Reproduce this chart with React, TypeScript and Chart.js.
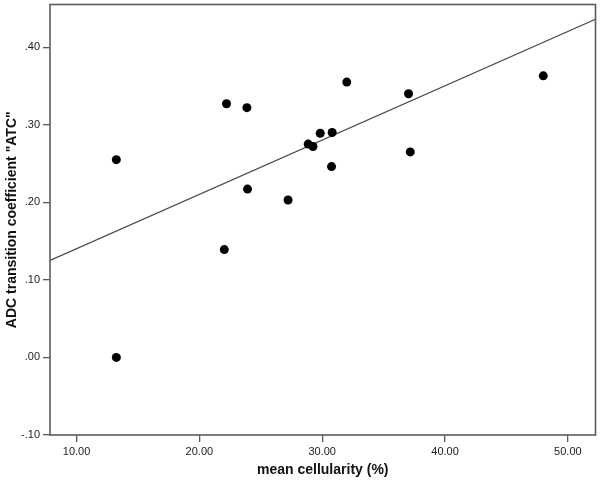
import React, { useEffect, useRef } from 'react';
import { Chart, registerables } from 'chart.js';
Chart.register(...registerables);

const cellularity = [13.24, 13.24, 22.21, 23.87, 22.03, 23.92, 27.22, 28.86, 29.25, 29.84, 30.81, 30.76, 32.0, 37.03, 37.17, 48.0];
const atc = [0.255, 0.0, 0.327, 0.322, 0.139, 0.217, 0.203, 0.275, 0.272, 0.289, 0.29, 0.246, 0.355, 0.34, 0.265, 0.363];
const fitX = [7.84, 52.25];
const fitY = [0.125, 0.436];
const xTicks = [10, 20, 30, 40, 50];
const yTicks = [-0.1, 0, 0.1, 0.2, 0.3, 0.4];
const xTitle = 'mean cellularity (%)';
const yTitle = 'ADC transition coefficient "ATC"';

const FONT = 'Arial, "Liberation Sans", Helvetica, sans-serif';
const AXIS_COLOR = '#5c5c5c';

const framePlugin = {
  id: 'frame',
  afterDraw(chart: any) {
    const { ctx, chartArea } = chart;
    ctx.save();
    ctx.strokeStyle = AXIS_COLOR;
    ctx.lineWidth = 1.6;
    ctx.strokeRect(chartArea.left, chartArea.top, chartArea.right - chartArea.left, chartArea.bottom - chartArea.top);
    ctx.restore();
  },
};

export default function App() {
  const ref = useRef<HTMLCanvasElement | null>(null);
  useEffect(() => {
    if (!ref.current) return;
    const chart = new Chart(ref.current, {
      type: 'scatter',
      data: {
        datasets: [
          {
            label: 'data',
            data: cellularity.map((x, i) => ({ x, y: atc[i] })),
            backgroundColor: '#000',
            borderColor: '#000',
            pointRadius: 4.5,
            pointBorderWidth: 0,
            showLine: false,
          },
          {
            label: 'fit',
            data: fitX.map((x, i) => ({ x, y: fitY[i] })),
            showLine: true,
            borderColor: '#444',
            borderWidth: 1.2,
            pointRadius: 0,
            fill: false,
          },
        ],
      },
      options: {
        animation: false,
        responsive: true,
        maintainAspectRatio: false,
        layout: { padding: { top: 4, right: 2, left: 0, bottom: 0 } },
        plugins: { legend: { display: false }, tooltip: { enabled: false } },
        scales: {
          x: {
            type: 'linear',
            min: 7.84,
            max: 52.25,
            afterBuildTicks: (s: any) => { s.ticks = xTicks.map((v) => ({ value: v })); },
            afterFit: (s: any) => { s.height = 47; s.paddingLeft = 0; s.paddingRight = 0; },
            ticks: {
              callback: (v: any) => Number(v).toFixed(2),
              font: { family: FONT, size: 11 },
              color: '#222',
              padding: 3,
              maxRotation: 0,
              autoSkip: false,
            },
            grid: { display: true, drawOnChartArea: false, drawTicks: true, tickLength: 7, color: AXIS_COLOR, lineWidth: 1.3 },
            border: { display: false },
            title: {
              display: true,
              text: xTitle,
              font: { family: FONT, size: 14, weight: 'bold' },
              color: '#111',
              padding: { top: 0, bottom: 3 },
            },
          },
          y: {
            type: 'linear',
            min: -0.1,
            max: 0.455,
            afterBuildTicks: (s: any) => { s.ticks = yTicks.map((v) => ({ value: v })); },
            afterFit: (s: any) => { s.width = 50; s.paddingTop = 0; s.paddingBottom = 0; },
            ticks: {
              callback: (v: any) => Number(v).toFixed(2).replace(/^(-?)0\./, '$1.'),
              font: { family: FONT, size: 11 },
              color: '#222',
              padding: 3,
              autoSkip: false,
            },
            grid: { display: true, drawOnChartArea: false, drawTicks: true, tickLength: 7, color: AXIS_COLOR, lineWidth: 1.3 },
            border: { display: false },
            title: {
              display: true,
              text: yTitle,
              font: { family: FONT, size: 14, weight: 'bold' },
              color: '#111',
              padding: { top: 4, bottom: 0 },
            },
          },
        },
      },
      plugins: [framePlugin],
    });
    return () => chart.destroy();
  }, []);
  return (
    <div style={{ position: 'fixed', left: 0, top: 0, width: 600, height: 482, background: '#fff' }}>
      <canvas ref={ref} />
    </div>
  );
}
